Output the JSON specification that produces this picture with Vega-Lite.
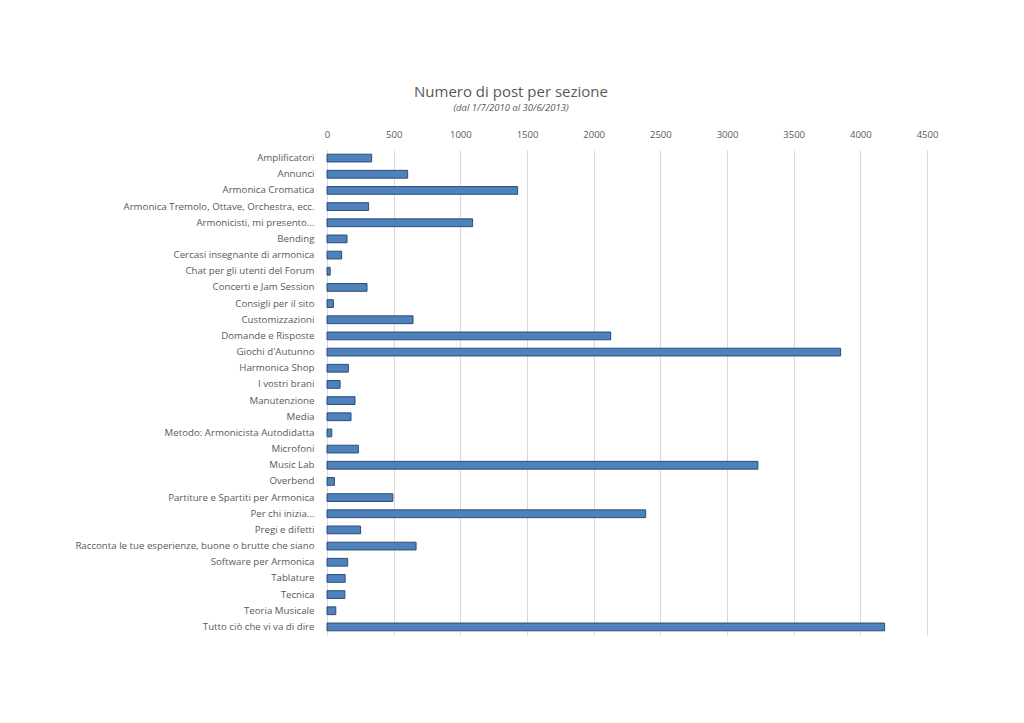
{
  "$schema": "https://vega.github.io/schema/vega-lite/v6.json",
  "autosize": "none",
  "width": 600,
  "height": 485,
  "padding": {"left": 327, "top": 150, "right": 97, "bottom": 88},
  "background": "white",
  "title": {
    "text": "Numero di post per sezione",
    "subtitle": "(dal 1/7/2010 al 30/6/2013)",
    "anchor": "middle",
    "frame": "group",
    "dx": -116,
    "offset": 17,
    "font": "Open Sans",
    "fontSize": 15,
    "fontWeight": "normal",
    "color": "#595959",
    "subtitleFont": "Open Sans",
    "subtitleFontSize": 9.5,
    "subtitleFontStyle": "italic",
    "subtitleColor": "#595959",
    "subtitlePadding": 3
  },
  "data": {
    "values": [
      {"sezione": "Amplificatori", "post": 335},
      {"sezione": "Annunci", "post": 605},
      {"sezione": "Armonica Cromatica", "post": 1430},
      {"sezione": "Armonica Tremolo, Ottave, Orchestra, ecc.", "post": 312},
      {"sezione": "Armonicisti, mi presento...", "post": 1092},
      {"sezione": "Bending", "post": 150},
      {"sezione": "Cercasi insegnante di armonica", "post": 110},
      {"sezione": "Chat per gli utenti del Forum", "post": 24},
      {"sezione": "Concerti e Jam Session", "post": 300},
      {"sezione": "Consigli per il sito", "post": 48},
      {"sezione": "Customizzazioni", "post": 645},
      {"sezione": "Domande e Risposte", "post": 2128},
      {"sezione": "Giochi d'Autunno", "post": 3852},
      {"sezione": "Harmonica Shop", "post": 160},
      {"sezione": "I vostri brani", "post": 98},
      {"sezione": "Manutenzione", "post": 210},
      {"sezione": "Media", "post": 180},
      {"sezione": "Metodo: Armonicista Autodidatta", "post": 36},
      {"sezione": "Microfoni", "post": 235},
      {"sezione": "Music Lab", "post": 3232},
      {"sezione": "Overbend", "post": 56},
      {"sezione": "Partiture e Spartiti per Armonica", "post": 494},
      {"sezione": "Per chi inizia...", "post": 2390},
      {"sezione": "Pregi e difetti", "post": 252},
      {"sezione": "Racconta le tue esperienze, buone o brutte che siano", "post": 668},
      {"sezione": "Software per Armonica", "post": 155},
      {"sezione": "Tablature", "post": 136},
      {"sezione": "Tecnica", "post": 134},
      {"sezione": "Teoria Musicale", "post": 66},
      {"sezione": "Tutto ciò che vi va di dire", "post": 4182}
    ]
  },
  "mark": {"type": "bar", "color": "#4F81BD", "stroke": "#2C4D75", "strokeWidth": 1},
  "encoding": {
    "y": {
      "field": "sezione",
      "type": "nominal",
      "sort": null,
      "title": null,
      "scale": {"paddingInner": 0.52, "paddingOuter": 0.26},
      "axis": {
        "domain": false,
        "ticks": false,
        "labelFont": "Open Sans",
        "labelFontSize": 9.7,
        "labelColor": "#595959",
        "labelPadding": 13,
        "labelLimit": 300
      }
    },
    "x": {
      "field": "post",
      "type": "quantitative",
      "title": null,
      "scale": {"domain": [0, 4500], "nice": false},
      "axis": {
        "orient": "top",
        "values": [0, 500, 1000, 1500, 2000, 2500, 3000, 3500, 4000, 4500],
        "format": "d",
        "domain": false,
        "ticks": false,
        "grid": true,
        "gridColor": "#D9D9D9",
        "gridWidth": 1,
        "labelFont": "Open Sans",
        "labelFontSize": 9.5,
        "labelColor": "#595959",
        "labelPadding": 11,
        "labelFlush": false
      }
    }
  },
  "config": {"view": {"stroke": null}}
}
